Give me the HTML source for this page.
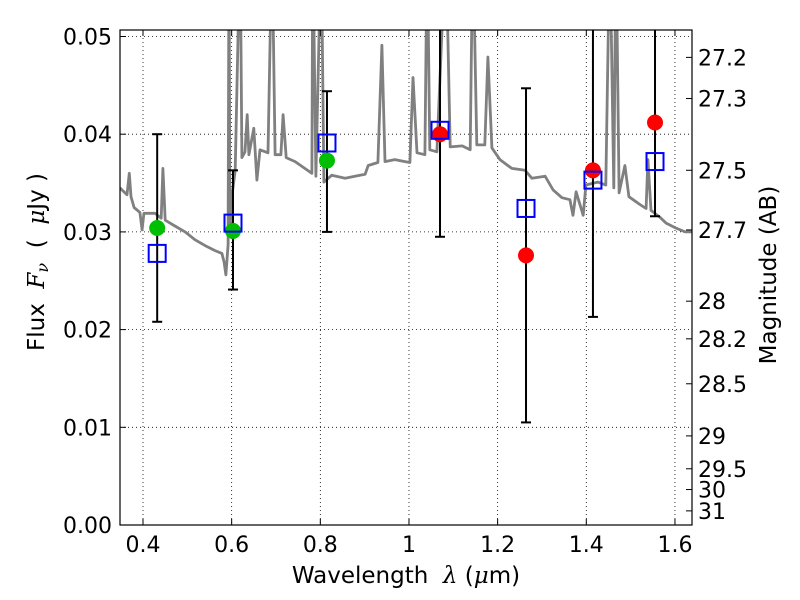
<!DOCTYPE html>
<html><head><meta charset="utf-8"><style>
body{margin:0;background:#fff}
svg{display:block;font-family:"DejaVu Sans","Liberation Sans",sans-serif}
</style></head><body>
<svg id="c" width="800" height="600" viewBox="0 0 800 600"></svg>
<script>
const specW=[0.348,0.364,0.369,0.373,0.380,0.393,0.398,0.402,0.427,0.441,0.445,0.450,0.472,0.495,0.517,0.540,0.562,0.578,0.583,0.587,0.592,0.594,0.596,0.601,0.608,0.619,0.623,0.630,0.635,0.639,0.650,0.657,0.664,0.682,0.691,0.698,0.711,0.716,0.723,0.743,0.765,0.781,0.783,0.790,0.802,0.808,0.826,0.856,0.878,0.901,0.908,0.930,0.939,0.946,0.968,0.991,1.002,1.009,1.018,1.036,1.041,1.047,1.063,1.083,1.093,1.120,1.138,1.144,1.153,1.171,1.178,1.187,1.205,1.232,1.262,1.277,1.307,1.325,1.345,1.363,1.370,1.377,1.393,1.399,1.426,1.444,1.453,1.462,1.467,1.474,1.487,1.496,1.521,1.535,1.539,1.546,1.566,1.580,1.602,1.623,1.638];
const specF=[0.0345,0.0338,0.0360,0.0336,0.0325,0.0320,0.0302,0.0319,0.0319,0.0314,0.0365,0.0312,0.0306,0.0300,0.0292,0.0286,0.0281,0.0278,0.0269,0.0256,0.0287,0.06,0.0302,0.0338,0.0363,0.06,0.0376,0.0382,0.0420,0.0379,0.0406,0.0353,0.0384,0.0381,0.06,0.0379,0.0379,0.0420,0.0376,0.0372,0.0365,0.0360,0.06,0.0357,0.06,0.0351,0.0358,0.0355,0.0357,0.0359,0.0368,0.0371,0.0491,0.0372,0.0374,0.0372,0.0371,0.0458,0.0381,0.0379,0.06,0.0384,0.0382,0.06,0.0387,0.0388,0.0384,0.06,0.0389,0.0389,0.0479,0.0386,0.0374,0.0365,0.0363,0.0355,0.0357,0.0343,0.0335,0.0333,0.0317,0.0341,0.0317,0.0348,0.0351,0.0348,0.06,0.0345,0.06,0.0340,0.0368,0.0336,0.0328,0.0324,0.0374,0.0322,0.0315,0.0309,0.0304,0.0300,0.0300];
const obsW=[0.432,0.603,0.815,1.070,1.264,1.415,1.555];
const obsF=[0.0304,0.0301,0.0373,0.0400,0.0276,0.0363,0.0412];
const obsColor=['green','green','green','red','red','red','red'];
const errLo=[0.0208,0.0241,0.0300,0.0295,0.0105,0.0213,0.0316];
const errHi=[0.0400,0.0363,0.0444,0.07,0.0447,0.07,0.07];
const modelF=[0.0278,0.0309,0.0391,0.0404,0.0324,0.0353,0.0372];
const xTicks=[0.4,0.6,0.8,1.0,1.2,1.4,1.6];
const xTickLabels=['0.4','0.6','0.8','1','1.2','1.4','1.6'];
const yTicks=[0,0.01,0.02,0.03,0.04,0.05];
const yTickLabels=['0.00','0.01','0.02','0.03','0.04','0.05'];
const magTicks=[27.2,27.3,27.5,27.7,28,28.2,28.5,29,29.5,30,31];
const magLabels=['27.2','27.3','27.5','27.7','28','28.2','28.5','29','29.5','30','31'];

const L=120,R=692,T=30,B=525;
const X=w=>143+(w-0.4)*443.3;
const Y=f=>525-f*9770;
const NS='http://www.w3.org/2000/svg';
const svg=document.getElementById('c');
function mk(tag,attrs,parent){const e=document.createElementNS(NS,tag);for(const k in attrs)e.setAttribute(k,attrs[k]);(parent||svg).appendChild(e);return e;}

const defs=mk('defs',{});
const cp=mk('clipPath',{id:'clip'},defs);
mk('rect',{x:L,y:T,width:R-L,height:B-T},cp);

const grid=mk('g',{stroke:'#000','stroke-width':0.8,'stroke-dasharray':'1,3'});


xTicks.forEach(t=>mk('line',{x1:X(t),x2:X(t),y1:T,y2:B},grid));
yTicks.forEach(t=>mk('line',{x1:L,x2:R,y1:Y(t),y2:Y(t)},grid));

const plot=mk('g',{'clip-path':'url(#clip)'});
let d='';specW.forEach((w,i)=>{d+=(i?'L':'M')+X(w).toFixed(1)+','+Y(specF[i]).toFixed(1);});
const sp=mk('path',{d:d,fill:'none',stroke:'#808080','stroke-width':2.8,'stroke-linejoin':'round'},plot);



obsW.forEach((w,i)=>{
  const g=mk('g',{stroke:'#000','stroke-width':2},plot);
  
  
  mk('line',{x1:X(w),x2:X(w),y1:Y(errLo[i]),y2:Y(errHi[i])},g);
  mk('line',{x1:X(w)-5,x2:X(w)+5,y1:Y(errLo[i]),y2:Y(errLo[i])},g);
  mk('line',{x1:X(w)-5,x2:X(w)+5,y1:Y(errHi[i]),y2:Y(errHi[i])},g);
});
obsW.forEach((w,i)=>{
  const c=mk('circle',{cx:X(w),cy:Y(obsF[i]),r:8,fill:obsColor[i]==='green'?'#00bf00':'#ff0000'},plot);
  
  
});
obsW.forEach((w,i)=>{
  const s=mk('rect',{x:X(w)-8.5,y:Y(modelF[i])-8.5,width:17,height:17,fill:'none',stroke:'#0000ff','stroke-width':2},plot);
  
  
});

const fr=mk('rect',{x:L,y:T,width:R-L,height:B-T,fill:'none',stroke:'#000','stroke-width':1.2});



const xt=mk('g',{stroke:'#000','stroke-width':1});
xTicks.forEach(t=>{mk('line',{x1:X(t),x2:X(t),y1:B,y2:B-6},xt);mk('line',{x1:X(t),x2:X(t),y1:T,y2:T+6},xt);});
xTicks.forEach((t,i)=>{
  const e=mk('text',{x:X(t),y:B+27,'font-size':22,'text-anchor':'middle'});
  e.textContent=xTickLabels[i];
  
  
});
yTicks.forEach((t,i)=>{
  mk('line',{x1:L,x2:L+6,y1:Y(t),y2:Y(t),stroke:'#000'});
  const e=mk('text',{x:L-8,y:Y(t)+8,'font-size':22,'text-anchor':'end'});
  e.textContent=yTickLabels[i];
  
  
});
magTicks.forEach((m,i)=>{
  const f=Math.pow(10,(23.9-m)/2.5);
  const y=Y(f);
  mk('line',{x1:R-6,x2:R,y1:y,y2:y,stroke:'#000'});
  const e=mk('text',{x:R+6,y:y+8,'font-size':22,'text-anchor':'start'});
  e.textContent=magLabels[i];
  
  
});
</script>
<div style="position:absolute;left:0;top:0;width:800px;height:600px;pointer-events:none">
<svg width="800" height="600" style="position:absolute;left:0;top:0;font-family:'DejaVu Sans','Liberation Sans',sans-serif">
<text x="406" y="583" font-size="23" text-anchor="middle" xml:space="preserve">Wavelength  <tspan font-style="italic" font-family="'DejaVu Serif',serif">λ</tspan> (<tspan font-style="italic" font-family="'DejaVu Serif',serif">μ</tspan>m)</text>
<text transform="translate(44,262) rotate(-90)" font-size="23" text-anchor="middle" xml:space="preserve">Flux  <tspan font-style="italic" font-family="'DejaVu Serif',serif">F</tspan><tspan font-style="italic" font-size="16" dy="4" font-family="'DejaVu Serif',serif">ν</tspan><tspan dy="-4">  (  </tspan><tspan font-style="italic" font-family="'DejaVu Serif',serif">μ</tspan>Jy )</text>
<text transform="translate(776,275) rotate(-90)" font-size="23" text-anchor="middle">Magnitude (AB)</text>
</svg></div>
</body></html>
